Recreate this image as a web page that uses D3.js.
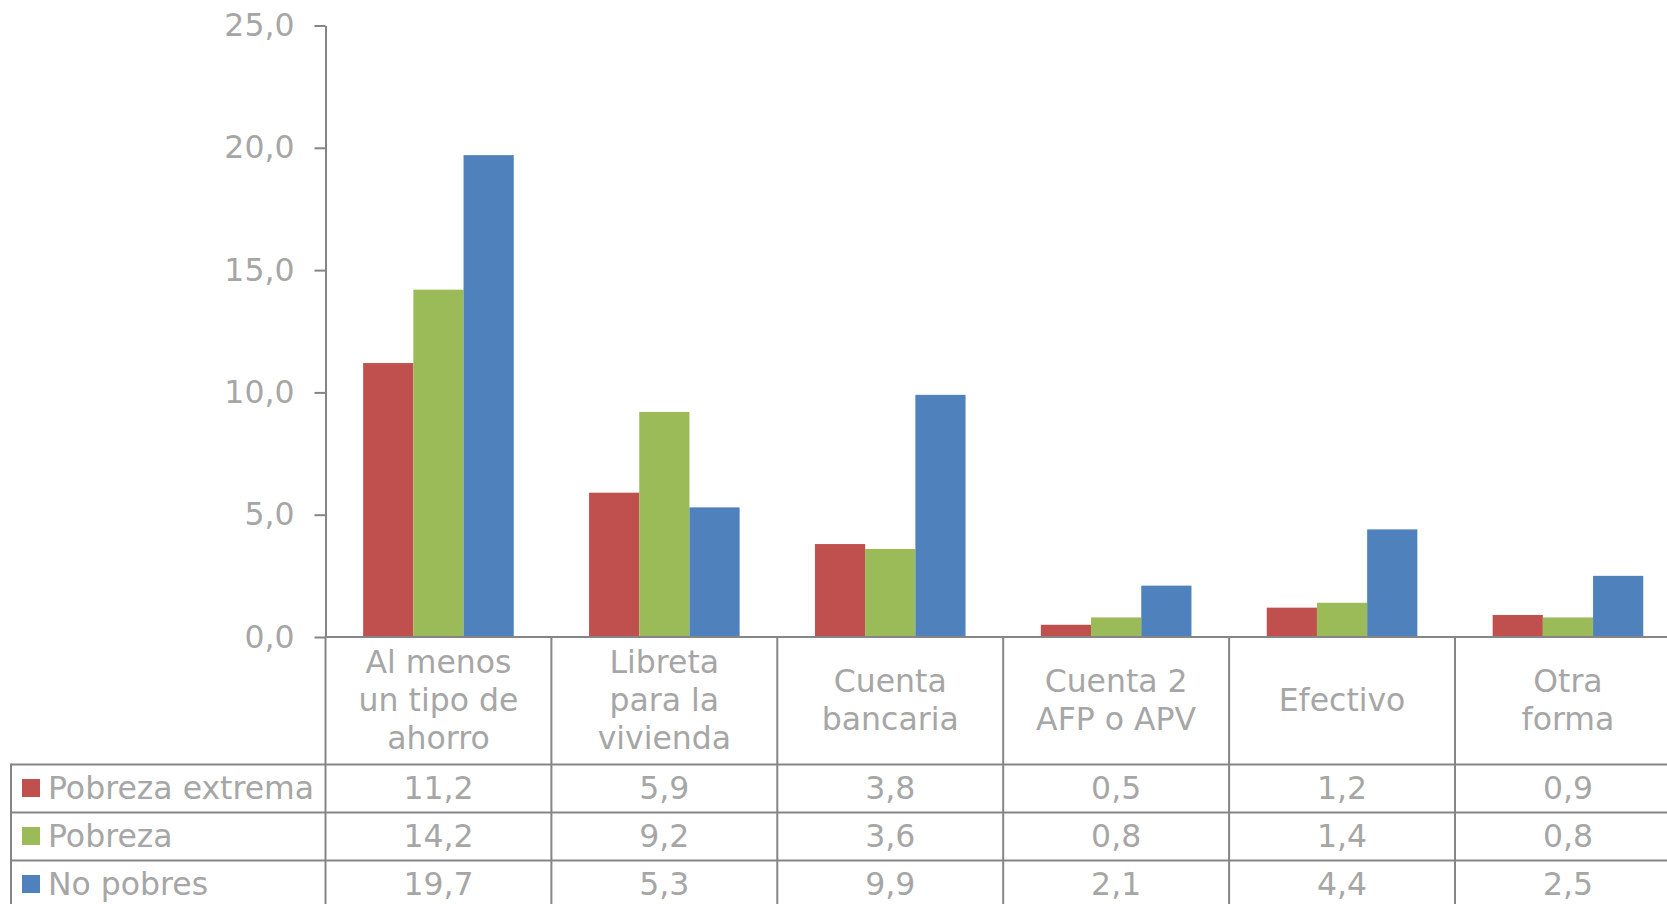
<!DOCTYPE html>
<html><head><meta charset="utf-8">
<script src="https://cdn.jsdelivr.net/npm/d3@7/dist/d3.min.js"></script>
<style>body{margin:0;background:#fff}svg{display:block}</style>
</head><body>
<svg id="c" width="1667" height="904"></svg>
<script>
const categories = [["Al menos","un tipo de","ahorro"],["Libreta","para la","vivienda"],["Cuenta","bancaria"],["Cuenta 2","AFP o APV"],["Efectivo"],["Otra","forma"]];
const seriesNames = ["Pobreza extrema","Pobreza","No pobres"];
const seriesColors = ["#C0504D","#9BBB59","#4F81BD"];
const pobrezaExtrema = [11.2,5.9,3.8,0.5,1.2,0.9];
const pobreza = [14.2,9.2,3.6,0.8,1.4,0.8];
const noPobres = [19.7,5.3,9.9,2.1,4.4,2.5];
const yTicks = [0,5,10,15,20,25];

const values = [pobrezaExtrema, pobreza, noPobres];
const catKeys = categories.map((c,i)=>"c"+i);

const svg = d3.select("#c");
const font = "DejaVu Sans, Verdana, sans-serif";
const fs = 31.5;
const textCol = "#a6a6a6";
const lineCol = "#858585";

const x0 = 325.5, colW = 225.9;
const yBase = 637, yTop = 25.5;
const headerBottom = 764.5, rowH = 48;
const tableLeft = 11;

const x = d3.scaleBand().domain(catKeys).range([x0, x0 + colW*6]).padding(0);
const bw = x.bandwidth();
const xs = d3.scaleBand().domain(seriesNames).range([bw/6, bw - bw/6]).padding(0);
const y = d3.scaleLinear().domain([0,25]).range([yBase, yTop]);

const loc = d3.formatLocale({decimal:",", thousands:".", grouping:[3], currency:["",""]});
const fmt = loc.format(".1f");

// bars
seriesNames.forEach((s,si)=>{
  svg.append("g").selectAll("rect").data(values[si]).join("rect")
    .attr("x",(d,i)=>x(catKeys[i]) + xs(s))
    .attr("width", xs.bandwidth())
    .attr("y", d=>y(d))
    .attr("height", d=>y(0)-y(d))
    .attr("fill", seriesColors[si]);
});

// y axis
const yAxis = d3.axisLeft(y).tickValues(yTicks).tickFormat(fmt).tickSize(11).tickSizeOuter(0).tickPadding(20);
const gy = svg.append("g").attr("transform",`translate(${x0},0)`).call(yAxis);
gy.select(".domain").attr("stroke",lineCol).attr("stroke-width",2);
gy.selectAll(".tick line").attr("stroke",lineCol).attr("stroke-width",2);
gy.selectAll(".tick text").attr("fill",textCol).style("font-family",font).style("font-size",fs+"px");

const bottom = headerBottom + rowH*3 + 10;
// table lines
const tl = svg.append("g").attr("stroke",lineCol).attr("stroke-width",2).attr("fill","none");
tl.append("line").attr("x1",x0).attr("x2",1667).attr("y1",yBase).attr("y2",yBase);
tl.append("line").attr("x1",x0).attr("x2",x0).attr("y1",yBase).attr("y2",bottom);
catKeys.forEach(k=>{
  const xe = x(k)+bw;
  tl.append("line").attr("x1",xe).attr("x2",xe).attr("y1",yBase).attr("y2",bottom);
});
for(let r=0;r<3;r++){
  const yy = headerBottom + r*rowH;
  tl.append("line").attr("x1",tableLeft).attr("x2",1667).attr("y1",yy).attr("y2",yy);
}
tl.append("line").attr("x1",tableLeft).attr("x2",tableLeft).attr("y1",headerBottom-1).attr("y2",bottom);

// category labels
const lh = 38.3;
const headerMid = (yBase + headerBottom)/2;
categories.forEach((lines,i)=>{
  const cx = x(catKeys[i]) + bw/2;
  const t = svg.append("text").attr("text-anchor","middle").attr("fill",textCol)
    .style("font-family",font).style("font-size",fs+"px");
  lines.forEach((ln,j)=>{
    t.append("tspan").attr("x",cx)
      .attr("y", headerMid + (j - (lines.length-1)/2)*lh)
      .attr("dy","0.33em").text(ln);
  });
});

// rows
seriesNames.forEach((s,si)=>{
  const cy = headerBottom + si*rowH + rowH/2;
  svg.append("rect").attr("x",22).attr("y",cy-9.5).attr("width",18).attr("height",18).attr("fill",seriesColors[si]);
  svg.append("text").attr("x",48).attr("y",cy).attr("dy","0.33em").attr("fill",textCol)
    .style("font-family",font).style("font-size",fs+"px").text(s);
  svg.append("g").selectAll("text").data(values[si]).join("text")
    .attr("x",(d,i)=>x(catKeys[i])+bw/2).attr("y",cy).attr("dy","0.33em")
    .attr("text-anchor","middle").attr("fill",textCol)
    .style("font-family",font).style("font-size",fs+"px").text(d=>fmt(d));
});
</script>
</body></html>
